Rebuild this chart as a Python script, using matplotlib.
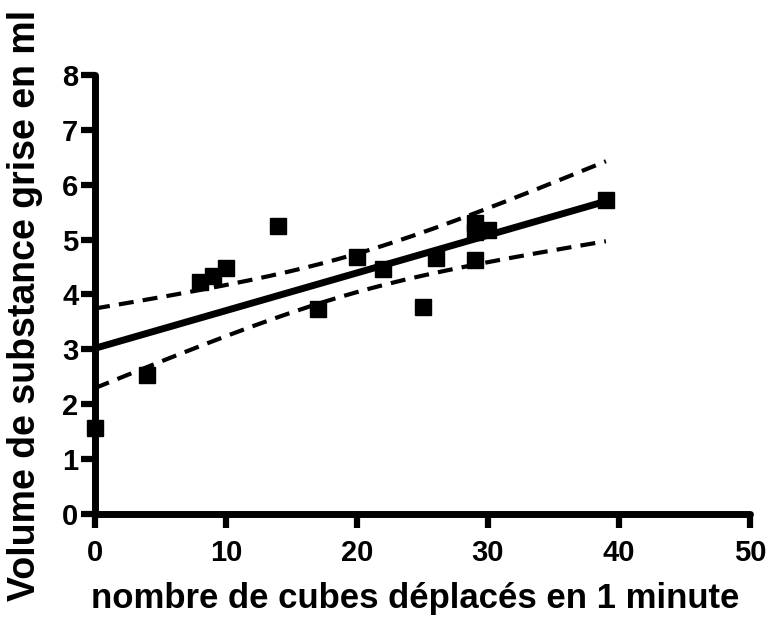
import matplotlib
matplotlib.use("Agg")
import matplotlib.pyplot as plt
import numpy as np

plt.rcParams["font.family"] = ["Liberation Sans", "DejaVu Sans"]
plt.rcParams["font.weight"] = "bold"

cubes = [0, 4, 8, 9, 10, 14, 17, 20, 22, 25, 26, 29, 29, 29, 30, 39]
volume = [1.57, 2.54, 4.22, 4.33, 4.49, 5.24, 3.74, 4.69, 4.47, 3.78, 4.66, 4.62, 5.30, 5.13, 5.17, 5.72]
x_ticks = [0, 10, 20, 30, 40, 50]
y_ticks = [0, 1, 2, 3, 4, 5, 6, 7, 8]

# regression (Prism fit with 95% confidence band)
fit_intercept = 3.02
fit_slope = 0.0687
fit_resid_sd = 0.652
t_crit = 2.145  # t(0.975, df=14)

x = np.array(cubes, dtype=float)
n = len(x)
sxx = np.sum((x - x.mean()) ** 2)
xs = np.linspace(x.min(), x.max(), 200)
fit = fit_intercept + fit_slope * xs
half = t_crit * fit_resid_sd * np.sqrt(1 / n + (xs - x.mean()) ** 2 / sxx)

fig = plt.figure(figsize=(7.7, 6.19), dpi=100)
ax = fig.add_axes([95 / 770, 1 - 514 / 619, 655 / 770, 439 / 619])

ax.plot(xs, fit, color="black", lw=5, solid_capstyle="butt")
ax.plot(xs, fit + half, color="black", lw=3, ls=(0, (3.6, 2.2)), dash_capstyle="butt")
ax.plot(xs, fit - half, color="black", lw=3, ls=(0, (3.6, 2.2)), dash_capstyle="butt")
ax.plot(cubes, volume, ls="none", marker="s", ms=12, color="black", clip_on=False, zorder=1)

ax.set_xlim(0, 50)
ax.set_ylim(0, 8)
ax.set_xticks(x_ticks)
ax.set_yticks(y_ticks)
for side in ["top", "right"]:
    ax.spines[side].set_visible(False)
for side in ["left", "bottom"]:
    ax.spines[side].set_linewidth(5)
    ax.spines[side].set_capstyle("round")
    ax.spines[side].set_zorder(5)
ax.tick_params(width=4.5, length=10, labelsize=21)
ax.tick_params(axis="x", pad=8)
ax.tick_params(axis="y", pad=2)
for lab in ax.get_xticklabels() + ax.get_yticklabels():
    lab.set_fontweight("bold")

fig.text(415 / 770, 1 - 608 / 619, "nombre de cubes déplacés en 1 minute", fontsize=25,
         fontweight="bold", ha="center", va="baseline")
fig.text(25 / 770, 1 - 305 / 619, "Volume de substance grise en ml", rotation=90, fontsize=27,
         fontweight="bold", ha="center", va="center")

fig.savefig("out.png", dpi=100)
